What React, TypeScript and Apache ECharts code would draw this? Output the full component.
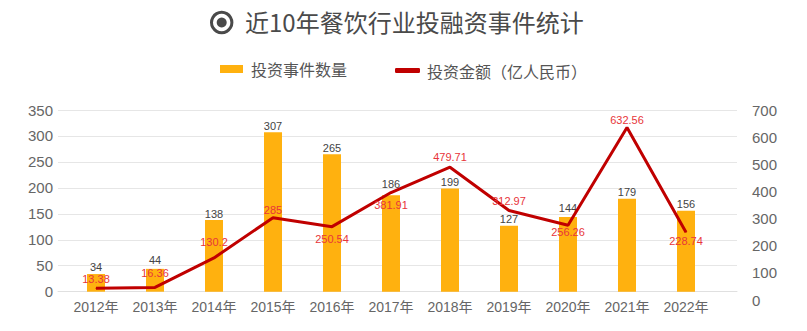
import React, { useEffect, useRef } from "react";
import * as echarts from "echarts";

const titleText = "近10年餐饮行业投融资事件统计";
const categories = ["2012年", "2013年", "2014年", "2015年", "2016年", "2017年", "2018年", "2019年", "2020年", "2021年", "2022年"];
const countName = "投资事件数量";
const amountName = "投资金额（亿人民币）";
const eventCounts = [34, 44, 138, 307, 265, 186, 199, 127, 144, 179, 156];
const amounts = [13.38, 16.36, 130.2, 285, 250.54, 381.91, 479.71, 312.97, 256.26, 632.56, 228.74];
const leftTicks = { min: 0, max: 350, interval: 50 };
const rightTicks = { min: 0, max: 700, interval: 100 };

// label vertical shifts (px, negative = upwards)
const amountLabelShift = [-9, -14, -16, -8, 12, 12, -10, -9, 7, -8, 9];
const countLabelShift = [-1, -2, 0, 0, 0, -5, 0, 0, -2, 0, 0];

const FONT = "'Liberation Sans', 'Noto Sans CJK SC', sans-serif";
const CJK = "'Noto Sans CJK SC', 'Liberation Sans', sans-serif";

export default function App() {
  const ref = useRef<HTMLDivElement>(null);
  useEffect(() => {
    if (!ref.current) return;
    const chart = echarts.init(ref.current, undefined, { renderer: "svg" });
    const gridTop = 110;
    const gridBottom = 39.3;
    chart.setOption({
      animation: false,
      backgroundColor: "#fff",
      title: {
        text: titleText,
        left: 245,
        top: 9,
        padding: 0,
        textStyle: { fontSize: 24, fontWeight: "normal", color: "#4a4a4a", fontFamily: CJK },
      },
      graphic: [
        { type: "ring", shape: { cx: 221.7, cy: 22.5, r: 11.7, r0: 8.7 }, style: { fill: "#4a4a4a" } },
        { type: "circle", shape: { cx: 221.7, cy: 22.5, r: 5 }, style: { fill: "#4a4a4a" } },
      ],
      legend: [
        {
          data: [{ name: countName, icon: "rect" }],
          left: 220,
          top: 61,
          padding: 0,
          itemWidth: 23,
          itemHeight: 8,
          textStyle: { fontSize: 16, color: "#555", fontFamily: CJK, padding: [0, 0, 0, 3] },
        },
        {
          data: [{ name: amountName, icon: "roundRect" }],
          left: 395,
          top: 62.5,
          padding: 0,
          itemWidth: 25,
          itemHeight: 5,
          textStyle: { fontSize: 16, color: "#555", fontFamily: CJK, padding: [0, 0, 0, 2] },
        },
      ],
      grid: [
        { left: 58, right: 70, top: gridTop, bottom: gridBottom },
        { left: 66.5, right: 91.5, top: gridTop, bottom: gridBottom },
        { left: 58, right: 70, top: gridTop, bottom: 31 },
      ],
      xAxis: [
        {
          gridIndex: 0,
          type: "value",
          min: 0,
          max: 1,
          axisLabel: { show: false },
          axisTick: { show: false },
          splitLine: { show: false },
          axisLine: { show: true, onZero: false, lineStyle: { color: "#e0e0e0", width: 1 } },
        },
        {
          gridIndex: 1,
          type: "category",
          data: categories,
          axisLine: { show: false },
          axisTick: { show: false },
          axisLabel: { color: "#666", fontSize: 14, margin: 8, fontFamily: FONT },
        },
        { gridIndex: 2, type: "value", show: false },
      ],
      yAxis: [
        {
          gridIndex: 0,
          type: "value",
          ...leftTicks,
          axisLine: { show: false },
          axisTick: { show: false },
          axisLabel: { color: "#666", fontSize: 15, margin: 5, fontFamily: FONT },
          splitLine: { lineStyle: { color: "#e6e6e6", width: 1 } },
        },
        { gridIndex: 1, type: "value", ...leftTicks, show: false, splitLine: { show: false } },
        { gridIndex: 1, type: "value", ...rightTicks, show: false, splitLine: { show: false } },
        {
          gridIndex: 2,
          type: "value",
          position: "right",
          ...rightTicks,
          axisLine: { show: false },
          axisTick: { show: false },
          splitLine: { show: false },
          axisLabel: { color: "#666", fontSize: 15, margin: 15, fontFamily: FONT },
        },
      ],
      series: [
        {
          name: countName,
          type: "bar",
          xAxisIndex: 1,
          yAxisIndex: 1,
          data: eventCounts.map((v, i) => ({
            value: v,
            label: { offset: [0, countLabelShift[i]] },
          })),
          barWidth: 18,
          itemStyle: { color: "#FFB10F" },
          label: { show: true, position: "top", distance: 1, color: "#444", fontSize: 11, fontFamily: FONT },
        },
        {
          name: amountName,
          type: "line",
          xAxisIndex: 1,
          yAxisIndex: 2,
          data: amounts.map((v, i) => ({
            value: v,
            label: { offset: [0, amountLabelShift[i]] },
          })),
          symbol: "circle",
          symbolSize: 1,
          itemStyle: { color: "#C00000" },
          lineStyle: { color: "#C00000", width: 3 },
          label: { show: true, position: "inside", color: "#E8353A", fontSize: 11, fontFamily: FONT },
          z: 3,
        },
      ],
    });
    return () => chart.dispose();
  }, []);
  return <div ref={ref} style={{ position: "fixed", left: 0, top: 0, width: 807, height: 331 }} />;
}
